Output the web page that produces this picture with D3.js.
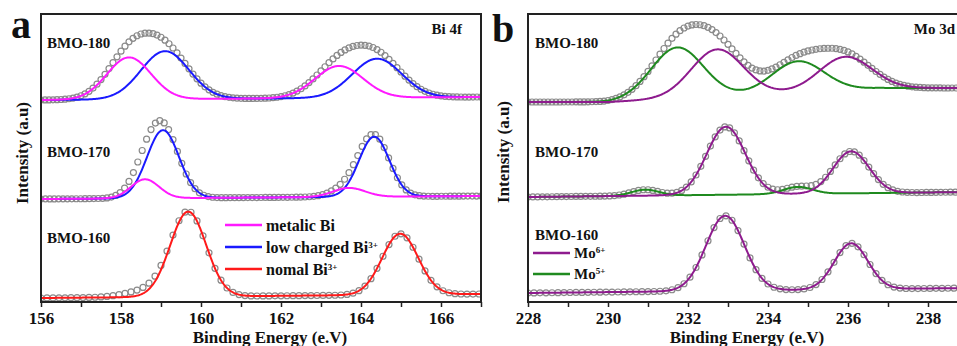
<!DOCTYPE html>
<html>
<head>
<meta charset="utf-8">
<script src="https://cdn.jsdelivr.net/npm/d3@7"></script>
<style>
  body { margin: 0; background: #fff; }
  svg { display: block; }
  text { font-family: "Liberation Serif", "Times New Roman", serif; font-weight: bold; fill: #111; }
</style>
</head>
<body>
<svg id="chart" width="957" height="346"></svg>
<script>
// ---- data (intensity in arbitrary units) ----
const samples = ["BMO-180", "BMO-170", "BMO-160"];

// Bi 4f panel
const biRange = [156, 167];
const biTicks = [156, 158, 160, 162, 164, 166];
const biStep = [0.1, 0.11, 0.15];                       // point spacing per sample (eV)
const biBackground = [                                  // background knots [eV, intensity]
  [[156, 202], [167, 205]],
  [[156, 103], [167, 106]],
  [[156, 4], [167, 8]]
];
// fitted peaks: [sample, centre (eV), height, sigma (eV)]
const biMetallic = [
  ["BMO-180", 158.2, 42, 0.55], ["BMO-180", 163.45, 32, 0.6],
  ["BMO-170", 158.6, 19, 0.35], ["BMO-170", 163.7, 9, 0.4]
];
const biLowCharged = [
  ["BMO-180", 159.1, 48, 0.6], ["BMO-180", 164.4, 39, 0.62],
  ["BMO-170", 159.05, 68, 0.4], ["BMO-170", 164.33, 60, 0.38]
];
const biNormal = [
  ["BMO-160", 159.68, 85, 0.45], ["BMO-160", 164.98, 61, 0.45]
];
const biResidual = [["BMO-160", 158.6, 6, 0.5]];        // shoulder in measured data only

// Mo 3d panel
const moRange = [228, 239];
const moTicks = [228, 230, 232, 234, 236, 238];
const moStep = [0.1, 0.12, 0.15];
const moBackground = [
  [[228, 200], [230, 200], [236.8, 214], [239, 214]],
  [[228, 105], [239, 110]],
  [[228, 9], [239, 14]]
];
const moSix = [
  ["BMO-180", 232.73, 47, 0.65], ["BMO-180", 235.93, 33, 0.65],
  ["BMO-170", 232.95, 68, 0.48], ["BMO-170", 236.08, 42, 0.45],
  ["BMO-160", 232.93, 75, 0.48], ["BMO-160", 236.08, 46, 0.42]
];
const moFive = [
  ["BMO-180", 231.73, 51, 0.65], ["BMO-180", 234.75, 31, 0.65],
  ["BMO-170", 230.93, 6, 0.34], ["BMO-170", 234.75, 7, 0.36]
];
const moResidual = [];

// ---- layout ----
const svg = d3.select("#chart");
const frameTop = 14, frameBottom = 302;

const y = d3.scaleLinear().domain([0, 288]).range([frameBottom, frameTop]);

const gauss = (e, p) => p[2] * Math.exp(-((e - p[1]) ** 2) / (2 * p[3] * p[3]));

function drawPanel(opt) {
  const x = d3.scaleLinear().domain(opt.range).range(opt.xRange);
  const g = svg.append("g");

  const clipId = "clip-" + opt.name;
  svg.append("clipPath").attr("id", clipId)
    .append("rect")
      .attr("x", opt.xRange[0]).attr("y", frameTop)
      .attr("width", opt.xRange[1] - opt.xRange[0])
      .attr("height", frameBottom - frameTop);

  const plot = g.append("g").attr("clip-path", `url(#${clipId})`);
  const line = d3.line().x(d => x(d[0])).y(d => y(d[1]));

  samples.forEach((s, i) => {
    const bg = d3.scaleLinear()
      .domain(opt.background[i].map(k => k[0]))
      .range(opt.background[i].map(k => k[1]));

    const allPeaks = opt.components.flatMap(c => c.peaks).concat(opt.residual)
      .filter(p => p[0] === s);

    // measured points
    const pts = d3.range(opt.range[0], opt.range[1] + 1e-6, opt.step[i])
      .map(e => [e, bg(e) + d3.sum(allPeaks, p => gauss(e, p))]);

    plot.append("g")
      .selectAll("circle")
      .data(pts)
      .join("circle")
        .attr("cx", d => x(d[0]))
        .attr("cy", d => y(d[1]))
        .attr("r", 3)
        .attr("fill", "none")
        .attr("stroke", "#8a8a8a")
        .attr("stroke-width", 1.2);

    // fitted components
    const fine = d3.range(opt.range[0], opt.range[1] + 1e-6, 0.02);
    opt.components.forEach(c => {
      const peaks = c.peaks.filter(p => p[0] === s);
      if (!peaks.length) return;
      plot.append("path")
        .datum(fine.map(e => [e, bg(e) + d3.sum(peaks, p => gauss(e, p))]))
        .attr("d", line)
        .attr("fill", "none")
        .attr("stroke", c.color)
        .attr("stroke-width", 2);
    });
  });

  // frame
  g.append("rect")
    .attr("x", opt.xRange[0]).attr("y", frameTop)
    .attr("width", opt.xRange[1] - opt.xRange[0])
    .attr("height", frameBottom - frameTop)
    .attr("fill", "none")
    .attr("stroke", "#222")
    .attr("stroke-width", 2);

  // x axis
  const axis = g.append("g")
    .attr("transform", `translate(0,${frameBottom})`)
    .call(d3.axisBottom(x)
      .tickValues(d3.range(opt.range[0], opt.range[1] + 1, 1))
      .tickFormat(d => opt.ticks.includes(d) ? d : "")
      .tickSize(5)
      .tickPadding(5));
  axis.select(".domain").remove();
  axis.selectAll(".tick line").attr("stroke", "#222").attr("stroke-width", 1.5);
  axis.selectAll(".tick text")
    .attr("fill", "#111")
    .style("font-family", '"Liberation Serif", serif')
    .style("font-weight", "bold")
    .style("font-size", "17px");

  g.append("text")
    .attr("x", opt.xTitle).attr("y", 343)
    .attr("text-anchor", "middle")
    .style("font-size", "17px")
    .text("Binding Energy (e.V)");

  g.append("text")
    .attr("transform", `translate(${opt.yTitle[0]},${opt.yTitle[1]}) rotate(-90)`)
    .attr("text-anchor", "middle")
    .attr("dy", "0.35em")
    .style("font-size", "17px")
    .text("Intensity (a.u)");

  g.append("text")
    .attr("x", opt.letter[0]).attr("y", opt.letter[1])
    .style("font-size", "40px")
    .text(opt.name);

  g.append("text")
    .attr("x", opt.core[0]).attr("y", opt.core[1])
    .attr("text-anchor", "end")
    .attr("dy", "0.35em")
    .style("font-size", "15px")
    .text(opt.coreLabel);

  samples.forEach((s, i) => {
    g.append("text")
      .attr("x", opt.labelX).attr("y", opt.labelY[i])
      .attr("dy", "0.35em")
      .style("font-size", "15px")
      .text(s);
  });

  // legend
  opt.legend.forEach((l, i) => {
    const ly = opt.legendY[i];
    g.append("line")
      .attr("x1", opt.legendX[0]).attr("x2", opt.legendX[1])
      .attr("y1", ly).attr("y2", ly)
      .attr("stroke", l.color).attr("stroke-width", 2.5);
    const t = g.append("text")
      .attr("x", opt.legendX[1] + 4).attr("y", ly)
      .attr("dy", "0.35em")
      .style("font-size", opt.legendSize);
    t.append("tspan").text(l.text);
    if (l.sup) {
      t.append("tspan")
        .attr("dy", "-0.55em")
        .style("font-size", "9px")
        .text(l.sup);
    }
  });
}

const magenta = "#ff1aff", blue = "#1a1aff", red = "#ff1a1a";
const purple = "#8e1b8e", green = "#1f8a1f";

drawPanel({
  name: "a",
  range: biRange, ticks: biTicks, xRange: [41, 481], step: biStep,
  background: biBackground, residual: biResidual,
  components: [
    { peaks: biNormal, color: red },
    { peaks: biLowCharged, color: blue },
    { peaks: biMetallic, color: magenta }
  ],
  xTitle: 270, yTitle: [22, 153], letter: [11, 38],
  core: [462, 29], coreLabel: "Bi 4f",
  labelX: 47, labelY: [43, 152, 238],
  legend: [
    { text: "metalic Bi", color: magenta },
    { text: "low charged Bi", sup: "3+", color: blue },
    { text: "nomal Bi", sup: "3+", color: red }
  ],
  legendX: [225, 262], legendY: [225, 247, 269], legendSize: "16px"
});

drawPanel({
  name: "b",
  range: moRange, ticks: moTicks, xRange: [528, 968], step: moStep,
  background: moBackground, residual: moResidual,
  components: [
    { peaks: moFive, color: green },
    { peaks: moSix, color: purple }
  ],
  xTitle: 747, yTitle: [503, 152], letter: [492, 42],
  core: [955, 29], coreLabel: "Mo 3d",
  labelX: 535, labelY: [43, 152, 235],
  legend: [
    { text: "Mo", sup: "6+", color: purple },
    { text: "Mo", sup: "5+", color: green }
  ],
  legendX: [533, 570], legendY: [253, 274], legendSize: "15px"
});
</script>
</body>
</html>
